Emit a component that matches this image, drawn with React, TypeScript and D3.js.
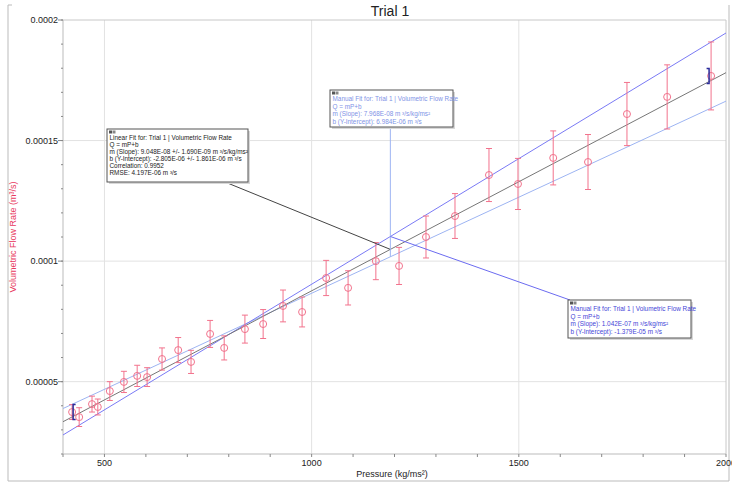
import React from "react";
import * as d3 from "d3";

// readings taken off the chart
const pressure = [422, 439, 470, 484, 513, 547, 579, 603, 639, 678, 709, 755, 789, 839, 883, 931, 977, 1035, 1088, 1155, 1211, 1276, 1346, 1428, 1498, 1583, 1667, 1761, 1858, 1964];
const flowRate = [3.74e-5, 3.53e-5, 4.07e-5, 3.95e-5, 4.61e-5, 4.99e-5, 5.24e-5, 5.19e-5, 5.94e-5, 6.31e-5, 5.82e-5, 6.98e-5, 6.4e-5, 7.18e-5, 7.39e-5, 8.14e-5, 7.89e-5, 9.3e-5, 8.89e-5, 1.0e-4, 9.8e-5, 1.1e-4, 1.187e-4, 1.357e-4, 1.32e-4, 1.428e-4, 1.411e-4, 1.61e-4, 1.681e-4, 1.768e-4];
const flowError = [3.1e-6, 3.9e-6, 3.3e-6, 3.3e-6, 3.9e-6, 4.4e-6, 4.4e-6, 3.9e-6, 4.6e-6, 5.2e-6, 4.8e-6, 5.6e-6, 5.0e-6, 5.8e-6, 6.0e-6, 6.6e-6, 6.2e-6, 7.3e-6, 7.1e-6, 7.7e-6, 7.7e-6, 8.7e-6, 9.3e-6, 11.0e-6, 10.6e-6, 11.2e-6, 11.4e-6, 13.1e-6, 13.3e-6, 14.1e-6];

const xTicks = [500, 1000, 1500, 2000];
const yTicks = [0.00005, 0.0001, 0.00015, 0.0002];
const yTickLabels = ["0.00005", "0.0001", "0.00015", "0.0002"];

// fits: [slope, intercept]
const linearFit = [9.048e-8, -2.805e-6];
const manualFitA = [7.968e-8, 6.984e-6];
const manualFitB = [1.042e-7, -1.379e-5];
const leaderP = 1190;

const linearText = [
  "Linear Fit for: Trial 1 | Volumetric Flow Rate",
  "Q = mP+b",
  "m (Slope): 9.048E-08 +/- 1.690E-09 m ³/s/kg/ms²",
  "b (Y-Intercept): -2.805E-06 +/- 1.861E-06 m ³/s",
  "Correlation: 0.9952",
  "RMSE: 4.197E-06 m ³/s",
];
const manualAText = [
  "Manual Fit for: Trial 1 | Volumetric Flow Rate",
  "Q = mP+b",
  "m (Slope): 7.968E-08 m ³/s/kg/ms²",
  "b (Y-Intercept): 6.984E-06 m ³/s",
];
const manualBText = [
  "Manual Fit for: Trial 1 | Volumetric Flow Rate",
  "Q = mP+b",
  "m (Slope): 1.042E-07 m ³/s/kg/ms²",
  "b (Y-Intercept): -1.379E-05 m ³/s",
];

const W = 732;
const H = 483;
const left = 63, right = 726, top = 20, bottom = 454;

const x = d3.scaleLinear().domain([400, 2000]).range([left, right]);
const y = d3.scaleLinear().domain([0.00002, 0.0002]).range([bottom, top]);

const pink = "#f2728c";
const font = "'Liberation Sans', Arial, sans-serif";

function fitLine(f: number[]) {
  const line = d3.line<number>().x(p => x(p)).y(p => y(f[0] * p + f[1]));
  return line([400, 2000]) || "";
}

function Note(props: { x: number; y: number; w: number; h: number; lines: string[]; color: string; step: number }) {
  const { lines, color } = props;
  return (
    <g transform={`translate(${props.x},${props.y})`}>
      <rect x={2} y={2} width={props.w} height={props.h} fill="#d8d8d8" />
      <rect width={props.w} height={props.h} fill="white" stroke="#555" strokeWidth={1} />
      <rect x={2} y={1.5} width={3} height={3} fill="#555" />
      <rect x={5.5} y={1.5} width={3} height={3} fill="#888" />
      {lines.map((t, i) => (
        <text key={i} x={2.5} y={11 + i * props.step} fontSize={6.4} fill={color} fontFamily={font}>
          {t}
        </text>
      ))}
    </g>
  );
}

export default function App() {
  const minorX = d3.range(400, 2001, 100);
  const minorY = d3.range(0.00002, 0.000201, 0.00001);
  const pA = { x: x(leaderP), y: y(manualFitA[0] * leaderP + manualFitA[1]) };
  const pB = { x: x(leaderP), y: y(manualFitB[0] * leaderP + manualFitB[1]) };
  const pL = { x: x(leaderP), y: y(linearFit[0] * leaderP + linearFit[1]) };

  return (
    <svg width={W} height={H} style={{ position: "absolute", left: 0, top: 0, background: "white" }}>
      <defs>
        <clipPath id="plot">
          <rect x={left} y={top} width={right - left} height={bottom - top} />
        </clipPath>
      </defs>

      {/* outer frame */}
      <path d="M8,5 H12 M8,5 V481 H729 V5" fill="none" stroke="#bbb" />

      <text x={390} y={16} textAnchor="middle" fontSize={14} fontFamily={font} fill="#222">Trial 1</text>

      {/* grid */}
      {xTicks.slice(0, 3).map(t => (
        <line key={t} x1={x(t)} x2={x(t)} y1={top} y2={bottom} stroke="#e2e2e2" />
      ))}
      {yTicks.slice(0, 3).map(t => (
        <line key={t} x1={left} x2={right} y1={y(t)} y2={y(t)} stroke="#e2e2e2" />
      ))}
      <line x1={left} x2={right} y1={top} y2={top} stroke="#c8c8c8" />
      <line x1={right} x2={right} y1={top} y2={bottom} stroke="#c8c8c8" />

      {/* axes */}
      <line x1={left} x2={left} y1={top} y2={bottom} stroke="#bbb" />
      <line x1={left} x2={right} y1={bottom} y2={bottom} stroke="#bbb" />
      {minorY.map((t, i) => (
        <line key={i} x1={left - 2} x2={left} y1={y(t)} y2={y(t)} stroke="#888" />
      ))}
      {yTicks.map((t, i) => (
        <g key={t}>
          <line x1={left - 5} x2={left} y1={y(t)} y2={y(t)} stroke="#888" />
          <text x={left - 5} y={y(t) + 3} textAnchor="end" fontSize={9} fontFamily={font} fill="#222">
            {yTickLabels[i]}
          </text>
        </g>
      ))}
      {minorX.map(t => (
        <line key={t} x1={x(t)} x2={x(t)} y1={bottom} y2={bottom + 3} stroke="#888" />
      ))}
      {xTicks.map(t => (
        <text key={t} x={x(t)} y={bottom + 12} textAnchor="middle" fontSize={9} fontFamily={font} fill="#222">
          {t}
        </text>
      ))}
      <text x={392} y={477} textAnchor="middle" fontSize={9} fontFamily={font} fill="#222">
        Pressure  (kg/ms²)
      </text>
      <text
        transform={`translate(16,${(top + bottom) / 2}) rotate(-90)`}
        textAnchor="middle"
        fontSize={9}
        fontFamily={font}
        fill="#e8385e"
      >
        Volumetric Flow Rate (m³/s)
      </text>

      <g clipPath="url(#plot)">
        <path d={fitLine(manualFitA)} stroke="#9db4f2" strokeWidth={1} fill="none" />
        <path d={fitLine(manualFitB)} stroke="#7a7af5" strokeWidth={1} fill="none" />
        <path d={fitLine(linearFit)} stroke="#777" strokeWidth={1} fill="none" />

        {pressure.map((p, i) => {
          const cx = x(p);
          const y0 = y(flowRate[i] - flowError[i]);
          const y1 = y(flowRate[i] + flowError[i]);
          return (
            <g key={i} stroke={pink} fill="none" strokeWidth={1}>
              <line x1={cx} x2={cx} y1={y0} y2={y1} />
              <line x1={cx - 3} x2={cx + 3} y1={y0} y2={y0} />
              <line x1={cx - 3} x2={cx + 3} y1={y1} y2={y1} />
              <circle cx={cx} cy={y(flowRate[i])} r={3.5} />
            </g>
          );
        })}

        {/* range brackets */}
        {[0, pressure.length - 1].map((i, k) => {
          const bx = x(pressure[i]) + (k === 0 ? 1 : -2);
          const y0 = y(flowRate[i] - 3.1e-6);
          const y1 = y(flowRate[i] + 3.1e-6);
          const d = k === 0 ? 2.5 : -2.5;
          return (
            <path key={i} d={`M${bx + d},${y1} H${bx} V${y0} H${bx + d}`} stroke="#2b2b9a" strokeWidth={1.5} fill="none" />
          );
        })}
      </g>

      {/* leader lines */}
      <line x1={225} y1={182} x2={pL.x} y2={pL.y} stroke="#444" />
      <line x1={pA.x} y1={127} x2={pA.x} y2={pA.y} stroke="#9db4f2" />
      <line x1={pB.x} y1={pB.y} x2={570} y2={300} stroke="#6b6bf0" />

      <Note x={107} y={129} w={141} h={53} lines={linearText} color="#222" step={7} />
      <Note x={330} y={90} w={123} h={37} lines={manualAText} color="#7f93e6" step={7.5} />
      <Note x={568} y={300} w={123} h={38} lines={manualBText} color="#4545d8" step={7.5} />
    </svg>
  );
}
